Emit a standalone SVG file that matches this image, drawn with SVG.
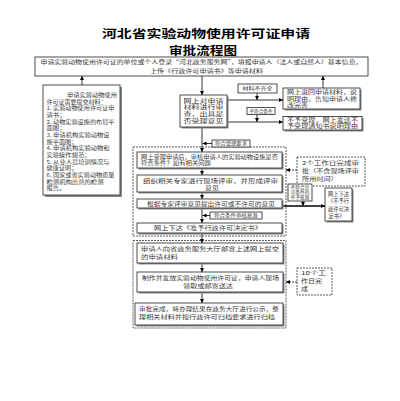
<svg xmlns="http://www.w3.org/2000/svg" width="400" height="401" viewBox="0 0 400 401">
<defs>
<marker id="ah" viewBox="0 0 6 6" refX="6" refY="3" markerUnits="userSpaceOnUse" markerWidth="4" markerHeight="4" orient="auto"><path d="M0,0 L6,3 L0,6 z" fill="#000"/></marker>
</defs>
<style>
text{font-family:"Noto Sans CJK SC","Noto Sans",sans-serif;fill:#333}
.t{font-size:5.2px}
.m{font-size:5.3px}
.s{font-size:4.5px}
.title{font-size:11.5px;font-weight:bold;fill:#000}
.box{fill:#fff;stroke:#222;stroke-width:0.8}
.shd{fill:#8a8a8a}
.grp{fill:none;stroke:#333;stroke-width:0.8;stroke-dasharray:2 1}
.dbox{fill:#fff;stroke:#333;stroke-width:0.8;stroke-dasharray:2 1}
.arr{stroke:#000;stroke-width:0.8;fill:none;marker-end:url(#ah)}
.thk{stroke:#000;stroke-width:1.3;fill:none;marker-end:url(#ah)}
.darr{stroke:#000;stroke-width:0.8;fill:none;stroke-dasharray:2 1;marker-end:url(#ah)}
</style>
<rect width="400" height="401" fill="#fff"/>

<g id="title">
<text x="206" y="38.3" text-anchor="middle" class="title" textLength="208" lengthAdjust="spacingAndGlyphs">河北省实验动物使用许可证申请</text>
<text x="203" y="55" text-anchor="middle" class="title" textLength="68" lengthAdjust="spacingAndGlyphs">审批流程图</text>
</g>

<g id="groups">
<rect class="grp" x="133" y="147" width="153" height="89"/>
<rect class="grp" x="133" y="240.5" width="153" height="87.5"/>
</g>

<g id="connectors">
<line class="arr" x1="202" y1="76" x2="202" y2="95"/>
<line class="arr" x1="82" y1="85" x2="82" y2="76"/>
<line class="arr" x1="323" y1="88" x2="323" y2="76"/>
<line class="arr" x1="227" y1="100" x2="283" y2="100"/>
<line class="arr" x1="257" y1="93" x2="257" y2="100"/>
<line class="arr" x1="227" y1="122" x2="283" y2="122"/>
<line class="arr" x1="257" y1="114.5" x2="257" y2="122"/>
<line class="arr" x1="202" y1="127" x2="202" y2="152"/>
<line class="arr" x1="212" y1="143.5" x2="202.5" y2="143.5"/>
<line class="arr" x1="202" y1="168" x2="202" y2="175"/>
<line class="arr" x1="202" y1="192" x2="202" y2="199"/>
<line class="arr" x1="202" y1="208" x2="202" y2="223"/>
<line class="arr" x1="210" y1="215.5" x2="202.5" y2="215.5"/>
<line class="thk" x1="282" y1="206" x2="325" y2="206"/>
<line class="arr" x1="303" y1="201" x2="303" y2="206"/>
<line class="darr" x1="297" y1="170" x2="286" y2="170"/>
<line class="arr" x1="202" y1="233" x2="202" y2="243"/>
<line class="arr" x1="202" y1="263" x2="202" y2="272"/>
<line class="arr" x1="202" y1="292" x2="202" y2="303"/>
<line class="darr" x1="297" y1="282" x2="286" y2="282"/>
</g>

<g id="n-top">
<rect class="box" x="35" y="57" width="333" height="19"/>
<text class="t" x="201.5" y="64.3" text-anchor="middle" textLength="322" lengthAdjust="spacingAndGlyphs">申请实验动物使用许可证的单位或个人登录“河北政务服务网”，填报申请人（法人或自然人）基本信息，</text>
<text class="t" x="206.5" y="72.5" text-anchor="middle" textLength="113" lengthAdjust="spacingAndGlyphs">上传《行政许可申请书》等申请材料</text>
</g>

<g id="n-materials">
<rect class="shd" x="45" y="87" width="77" height="110"/>
<rect class="box" x="43" y="85" width="77" height="110"/>
<text class="t" x="67" y="97" textLength="50" lengthAdjust="spacingAndGlyphs">申请实验动物使用</text>
<text class="t" x="46.5" y="103.6" textLength="60" lengthAdjust="spacingAndGlyphs">许可证需要提交材料：</text>
<text class="t" x="46.5" y="110.3" textLength="68" lengthAdjust="spacingAndGlyphs">1. 实验动物使用许可证申</text>
<text class="t" x="46.5" y="117" textLength="19" lengthAdjust="spacingAndGlyphs">请书；</text>
<text class="t" x="46.5" y="123.6" textLength="68" lengthAdjust="spacingAndGlyphs">2. 动物实验设施的布局平</text>
<text class="t" x="46.5" y="130.3" textLength="19" lengthAdjust="spacingAndGlyphs">面图；</text>
<text class="t" x="46.5" y="137" textLength="63" lengthAdjust="spacingAndGlyphs">3. 申请机构实验动物设</text>
<text class="t" x="46.5" y="143.6" textLength="31" lengthAdjust="spacingAndGlyphs">施平面图；</text>
<text class="t" x="46.5" y="150.3" textLength="63" lengthAdjust="spacingAndGlyphs">4. 申请机构实验动物和</text>
<text class="t" x="46.5" y="157" textLength="44" lengthAdjust="spacingAndGlyphs">实验操作规范；</text>
<text class="t" x="46.5" y="163.6" textLength="63" lengthAdjust="spacingAndGlyphs">5. 从业人员培训情况与</text>
<text class="t" x="46.5" y="170.3" textLength="31" lengthAdjust="spacingAndGlyphs">健康证明；</text>
<text class="t" x="46.5" y="177" textLength="68" lengthAdjust="spacingAndGlyphs">6. 国家或省实验动物质量</text>
<text class="t" x="46.5" y="183.6" textLength="57" lengthAdjust="spacingAndGlyphs">检测机构出具的检测</text>
<text class="t" x="46.5" y="190.3" textLength="19" lengthAdjust="spacingAndGlyphs">报告。</text>
</g>

<g id="n-review">
<rect class="shd" x="181.5" y="96.5" width="47" height="32"/>
<rect class="box" x="180" y="95" width="47" height="32"/>
<text class="m" x="203.5" y="102.6" text-anchor="middle" textLength="40" lengthAdjust="spacingAndGlyphs">网上对申请</text>
<text class="m" x="203.5" y="109.3" text-anchor="middle" textLength="40" lengthAdjust="spacingAndGlyphs">材料进行审</text>
<text class="m" x="203.5" y="116" text-anchor="middle" textLength="40" lengthAdjust="spacingAndGlyphs">查，出具是</text>
<text class="m" x="203.5" y="122.7" text-anchor="middle" textLength="40" lengthAdjust="spacingAndGlyphs">否受理意见</text>
</g>

<g id="n-label-incomplete">
<rect class="box" x="238" y="84" width="39" height="9"/>
<text class="s" x="257.5" y="90.2" text-anchor="middle" textLength="30" lengthAdjust="spacingAndGlyphs">材料不齐全</text>
</g>

<g id="n-label-unqualified">
<rect class="box" x="247" y="107.5" width="28" height="7"/>
<text class="s" x="261" y="112.7" text-anchor="middle" textLength="23" lengthAdjust="spacingAndGlyphs">不符合条件</text>
</g>

<g id="n-return">
<rect class="shd" x="284.5" y="89.5" width="77" height="21"/>
<rect class="box" x="283" y="88" width="77" height="21"/>
<text class="t" x="287" y="94.3" textLength="70" lengthAdjust="spacingAndGlyphs">网上退回申请材料，说</text>
<text class="t" x="287" y="100.8" textLength="70" lengthAdjust="spacingAndGlyphs">明理由，告知申请人修</text>
<text class="t" x="287" y="107.2" textLength="21" lengthAdjust="spacingAndGlyphs">改完善</text>
</g>

<g id="n-reject">
<rect class="shd" x="284.5" y="118" width="79" height="13.5"/>
<rect class="box" x="283" y="116.5" width="79" height="13.5"/>
<text class="t" x="287" y="122.2" textLength="71" lengthAdjust="spacingAndGlyphs">不予受理，网上发送不</text>
<text class="t" x="287" y="128.4" textLength="71" lengthAdjust="spacingAndGlyphs">予受理通知书说明理由</text>
</g>

<g id="n-label-accept">
<rect class="box" x="212" y="140" width="38" height="7"/>
<text class="s" x="231" y="145.2" text-anchor="middle" textLength="32" lengthAdjust="spacingAndGlyphs">符合受理要求</text>
</g>

<g id="n-accept">
<rect class="shd" x="138.5" y="153.5" width="145" height="16"/>
<rect class="box" x="137" y="152" width="145" height="16"/>
<text class="m" x="141" y="158.7" textLength="137" lengthAdjust="spacingAndGlyphs">网上受理申请后，审核申请人的实验动物设施是否</text>
<text class="m" x="141" y="165.4" textLength="70" lengthAdjust="spacingAndGlyphs">符合条件？如有相关问题</text>
</g>

<g id="n-expert">
<rect class="shd" x="138.5" y="176.5" width="145" height="17"/>
<rect class="box" x="137" y="175" width="145" height="17"/>
<text class="m" x="143" y="182.6" textLength="135" lengthAdjust="spacingAndGlyphs">组织相关专家进行现场评审，并形成评审</text>
<text class="m" x="212" y="189.5" text-anchor="middle" textLength="14" lengthAdjust="spacingAndGlyphs">意见</text>
</g>

<g id="n-opinion">
<rect class="shd" x="138.5" y="200.5" width="145" height="9"/>
<rect class="box" x="137" y="199" width="145" height="9"/>
<text class="m" x="211" y="205.5" text-anchor="middle" textLength="128" lengthAdjust="spacingAndGlyphs">根据专家评审意见提出许可或不许可的意见</text>
</g>

<g id="n-label-approve">
<rect class="box" x="210" y="212" width="52" height="7"/>
<text class="s" x="236" y="217.2" text-anchor="middle" textLength="44" lengthAdjust="spacingAndGlyphs">符合条件审核批准</text>
</g>

<g id="n-grant">
<rect class="shd" x="138.5" y="224.5" width="145" height="10"/>
<rect class="box" x="137" y="223" width="145" height="10"/>
<text class="m" x="208" y="230" text-anchor="middle" textLength="108" lengthAdjust="spacingAndGlyphs">网上下达《准予行政许可决定书》</text>
</g>

<g id="n-2days">
<rect class="dbox" x="297" y="157" width="68" height="29"/>
<text class="t" x="302" y="165.2" textLength="57" lengthAdjust="spacingAndGlyphs">2个工作日完成审</text>
<text class="t" x="302" y="172.9" textLength="57" lengthAdjust="spacingAndGlyphs">批（不含现场评审</text>
<text class="t" x="302" y="180.6" textLength="36" lengthAdjust="spacingAndGlyphs">所用时间）</text>
</g>

<g id="n-label-deny">
<rect class="box" x="288" y="184" width="24" height="17"/>
<text class="s" x="300" y="189.3" text-anchor="middle" textLength="19" lengthAdjust="spacingAndGlyphs">不符合许</text>
<text class="s" x="300" y="194.3" text-anchor="middle" textLength="19" lengthAdjust="spacingAndGlyphs">可条件的</text>
<text class="s" x="300" y="199.3" text-anchor="middle" textLength="19" lengthAdjust="spacingAndGlyphs">不予批准</text>
</g>

<g id="n-deny">
<rect class="shd" x="326.5" y="189.5" width="27" height="33"/>
<rect class="box" x="325" y="188" width="27" height="33"/>
<text class="t" x="338.5" y="195.8" text-anchor="middle" textLength="21" lengthAdjust="spacingAndGlyphs">网上下达</text>
<text class="t" x="338.5" y="203.3" text-anchor="middle" textLength="21" lengthAdjust="spacingAndGlyphs">《不予行</text>
<text class="t" x="338.5" y="210.8" text-anchor="middle" textLength="21" lengthAdjust="spacingAndGlyphs">政许可决</text>
<text class="t" x="336.5" y="218.1" text-anchor="middle" textLength="16" lengthAdjust="spacingAndGlyphs">定书》</text>
</g>

<g id="n-mail">
<rect class="shd" x="138.5" y="244.5" width="146" height="20"/>
<rect class="box" x="137" y="243" width="146" height="20"/>
<text class="m" x="141" y="250.8" textLength="138" lengthAdjust="spacingAndGlyphs">申请人向省政务服务大厅邮寄上述网上提交</text>
<text class="m" x="141" y="258.8" textLength="37" lengthAdjust="spacingAndGlyphs">的申请材料</text>
</g>

<g id="n-issue">
<rect class="shd" x="138.5" y="273.5" width="146" height="20"/>
<rect class="box" x="137" y="272" width="146" height="20"/>
<text class="m" x="142" y="280.3" textLength="137" lengthAdjust="spacingAndGlyphs">制作并发放实验动物使用许可证，申请人现场</text>
<text class="m" x="208" y="288.3" text-anchor="middle" textLength="50" lengthAdjust="spacingAndGlyphs">领取或邮寄送达</text>
</g>

<g id="n-finish">
<rect class="shd" x="136.5" y="304.5" width="148" height="22"/>
<rect class="box" x="135" y="303" width="148" height="22"/>
<text class="m" x="139" y="311.3" textLength="140" lengthAdjust="spacingAndGlyphs">审批完成，将办理结果在政务大厅进行公示，整</text>
<text class="m" x="139" y="319.3" textLength="136" lengthAdjust="spacingAndGlyphs">理相关材料并按行政许可归档要求进行归档</text>
</g>

<g id="n-10days">
<rect class="dbox" x="297" y="268" width="35" height="27"/>
<text class="m" x="301" y="275.3" textLength="25" lengthAdjust="spacingAndGlyphs">10个工</text>
<text class="m" x="301" y="283.3" textLength="21" lengthAdjust="spacingAndGlyphs">作日完</text>
<text class="m" x="301" y="291.3" textLength="7" lengthAdjust="spacingAndGlyphs">成</text>
</g>
</svg>
